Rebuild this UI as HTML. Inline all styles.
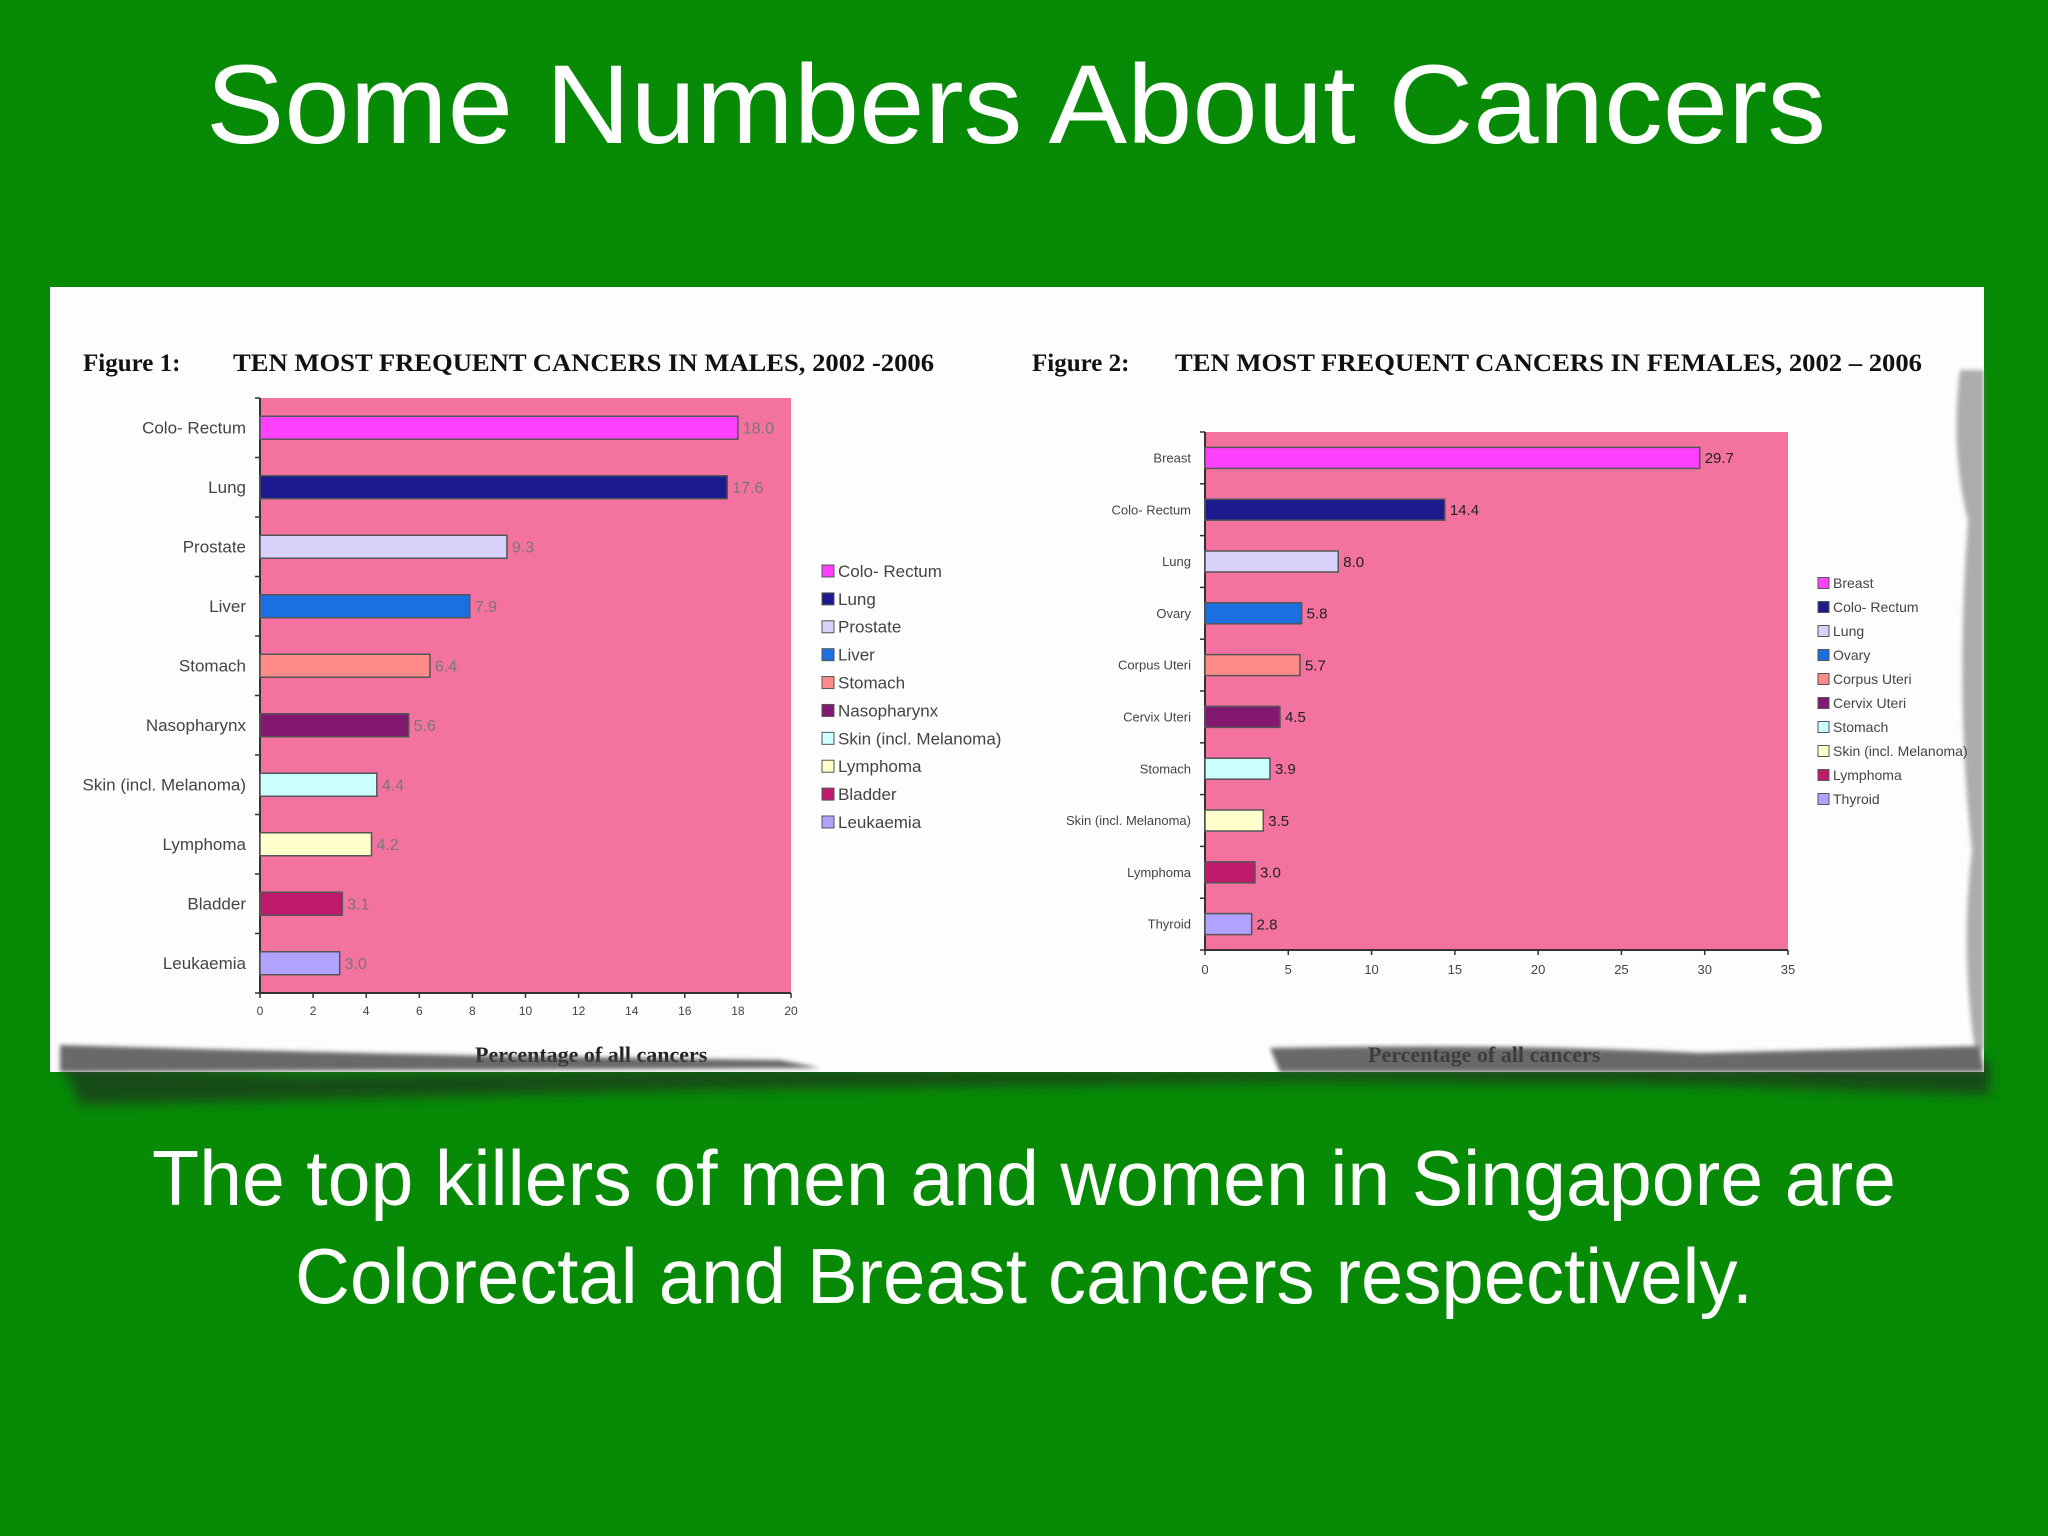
<!DOCTYPE html>
<html><head><meta charset="utf-8"><style>
html,body{margin:0;padding:0;background:#078b07;}
svg{display:block;}
</style></head><body>
<svg id="s" width="2048" height="1536" viewBox="0 0 2048 1536" xmlns="http://www.w3.org/2000/svg">
<defs>
<filter id="blur" x="-10%" y="-50%" width="120%" height="200%"><feGaussianBlur stdDeviation="6"/></filter>
<filter id="blur2"><feGaussianBlur stdDeviation="2"/></filter>
</defs>
<rect width="2048" height="1536" fill="#078b07"/>
<text x="1016" y="143" text-anchor="middle" font-family="Liberation Sans, sans-serif" font-size="112" fill="#fff" textLength="1620" lengthAdjust="spacingAndGlyphs">Some Numbers About Cancers</text>
<path d="M60 1060 L300 1075 L700 1068 L1300 1070 L1700 1066 L1990 1060 L1990 1095 L1700 1085 L1300 1082 L700 1090 L300 1100 L80 1105 Z" fill="#222" opacity="0.6" filter="url(#blur)"/>
<rect x="50" y="287" width="1934" height="785" fill="#fdfdfd"/>
<text x="475" y="1062" font-family="Liberation Serif, serif" font-size="22" font-weight="bold" fill="#222">Percentage of all cancers</text>
<text x="1368" y="1062" font-family="Liberation Serif, serif" font-size="22" font-weight="bold" fill="#222">Percentage of all cancers</text>
<path d="M60 1045 Q300 1052 500 1056 L780 1060 L820 1068 L60 1072 Z" fill="#444" opacity="0.8" filter="url(#blur2)"/>
<path d="M1270 1048 Q1500 1043 1700 1053 L1980 1046 L1984 1072 L1280 1072 Z" fill="#444" opacity="0.8" filter="url(#blur2)"/>
<path d="M1960 370 Q1950 450 1968 520 Q1955 700 1972 850 Q1960 950 1975 1050 L1984 1050 L1984 370 Z" fill="#777" opacity="0.6" filter="url(#blur2)"/>
<g id="c1"></g>
<g id="c2"></g>
<text x="1024" y="1205" text-anchor="middle" font-family="Liberation Sans, sans-serif" font-size="78" fill="#fff" textLength="1744" lengthAdjust="spacingAndGlyphs">The top killers of men and women in Singapore are</text>
<text x="1024" y="1303" text-anchor="middle" font-family="Liberation Sans, sans-serif" font-size="78" fill="#fff" textLength="1458" lengthAdjust="spacingAndGlyphs">Colorectal and Breast cancers respectively.</text>
</svg>
<script>
const maleCategories=["Colo- Rectum","Lung","Prostate","Liver","Stomach","Nasopharynx","Skin (incl. Melanoma)","Lymphoma","Bladder","Leukaemia"];
const maleValues=[18.0,17.6,9.3,7.9,6.4,5.6,4.4,4.2,3.1,3.0];
const maleTicks=[0,2,4,6,8,10,12,14,16,18,20];
const maleColors=["#ff40ff","#1c1a8c","#d8d2fa","#1a70e0","#ff8c88","#821870","#ccffff","#ffffcc","#c01a6c","#b0a2ff"];
const femaleCategories=["Breast","Colo- Rectum","Lung","Ovary","Corpus Uteri","Cervix Uteri","Stomach","Skin (incl. Melanoma)","Lymphoma","Thyroid"];
const femaleValues=[29.7,14.4,8.0,5.8,5.7,4.5,3.9,3.5,3.0,2.8];
const femaleTicks=[0,5,10,15,20,25,30,35];
const femaleColors=["#ff40ff","#1c1a8c","#d8d2fa","#1a70e0","#ff8c88","#821870","#ccffff","#ffffcc","#c01a6c","#b0a2ff"];
const NS="http://www.w3.org/2000/svg";
function mk(p,t,a,txt){const e=document.createElementNS(NS,t);for(const k in a)e.setAttribute(k,a[k]);if(txt!==undefined)e.textContent=txt;p.appendChild(e);return e;}
function draw(g,o){
  const sx=v=>o.x0+(v-o.ticks[0])/(o.ticks[o.ticks.length-1]-o.ticks[0])*(o.x1-o.x0);
  const n=o.cats.length;
  const band=(o.yb-o.yt)/n;
  const sy=i=>o.yt+band*(i+0.5);
  let e;
  e=mk(g,'text',{x:o.fx,y:o.ty,'font-family':'Liberation Serif, serif','font-size':o.tfs,'font-weight':'bold',fill:'#111'},o.fig);
  
  e=mk(g,'text',{x:o.tx,y:o.ty,'font-family':'Liberation Serif, serif','font-size':o.tfs,'font-weight':'bold',fill:'#111',textLength:o.tw,lengthAdjust:'spacingAndGlyphs'},o.title);
  
  e=mk(g,'rect',{x:o.x0,y:o.yt,width:o.x1-o.x0,height:o.yb-o.yt,fill:'#f472a0'});
  
  e=mk(g,'line',{x1:o.x0,y1:o.yt,x2:o.x0,y2:o.yb,stroke:'#333','stroke-width':2});
  
  e=mk(g,'line',{x1:o.x0,y1:o.yb,x2:o.x1,y2:o.yb,stroke:'#333','stroke-width':2});
  
  o.ticks.forEach(t=>{
    e=mk(g,'line',{x1:sx(t),y1:o.yb,x2:sx(t),y2:o.yb+5,stroke:'#333','stroke-width':1.5});
    
    e=mk(g,'text',{x:sx(t),y:o.yb+o.tickDy,'text-anchor':'middle','font-family':'Liberation Sans, sans-serif','font-size':o.tkfs,fill:'#444'},String(t));
    
  });
  for(let i=0;i<=n;i++){
    e=mk(g,'line',{x1:o.x0-5,y1:o.yt+band*i,x2:o.x0,y2:o.yt+band*i,stroke:'#333','stroke-width':1.5});
    
  }
  o.cats.forEach((c,i)=>{
    const v=o.vals[i],y=sy(i);
    e=mk(g,'rect',{x:sx(0),y:y-o.bh/2,width:sx(v)-sx(0),height:o.bh,fill:o.colors[i],stroke:'#555','stroke-width':1.5});
    
    
    e=mk(g,'text',{x:sx(v)+5,y:y+o.vfs*0.35,'font-family':'Liberation Sans, sans-serif','font-size':o.vfs,fill:o.valColor},v.toFixed(1));
    
    e=mk(g,'text',{x:o.x0-14,y:y+o.lfs*0.35,'text-anchor':'end','font-family':'Liberation Sans, sans-serif','font-size':o.lfs,fill:'#444'},c);
    
    const ly=o.legY[0]+(o.legY[1]-o.legY[0])*i/(n-1);
    e=mk(g,'rect',{x:o.legX,y:ly-o.sw/2,width:o.sw,height:o.sw,fill:o.colors[i],stroke:'#555','stroke-width':1});
    
    e=mk(g,'text',{x:o.legX+o.sw+4,y:ly+o.legFs*0.35,'font-family':'Liberation Sans, sans-serif','font-size':o.legFs,fill:'#444'},c);
    
  });
}
draw(document.getElementById('c1'),{cats:maleCategories,vals:maleValues,ticks:maleTicks,colors:maleColors,
  x0:260,x1:791,yt:398,yb:993,bh:23,lfs:17,vfs:16,tkfs:12,tickDy:22,valColor:'#777',
  fig:'Figure 1:',title:'TEN MOST FREQUENT CANCERS IN MALES, 2002 -2006',fx:83,tx:233,tw:701,ty:371,tfs:25,
  legX:822,legY:[571,822],sw:12,legFs:17});
draw(document.getElementById('c2'),{cats:femaleCategories,vals:femaleValues,ticks:femaleTicks,colors:femaleColors,
  x0:1205,x1:1788,yt:432,yb:950,bh:21,lfs:13,vfs:15,tkfs:13,tickDy:24,valColor:'#222',
  fig:'Figure 2:',title:'TEN MOST FREQUENT CANCERS IN FEMALES, 2002 – 2006',fx:1032,tx:1175,tw:747,ty:371,tfs:25,
  legX:1818,legY:[583,799],sw:11,legFs:14});
</script>
</body></html>
